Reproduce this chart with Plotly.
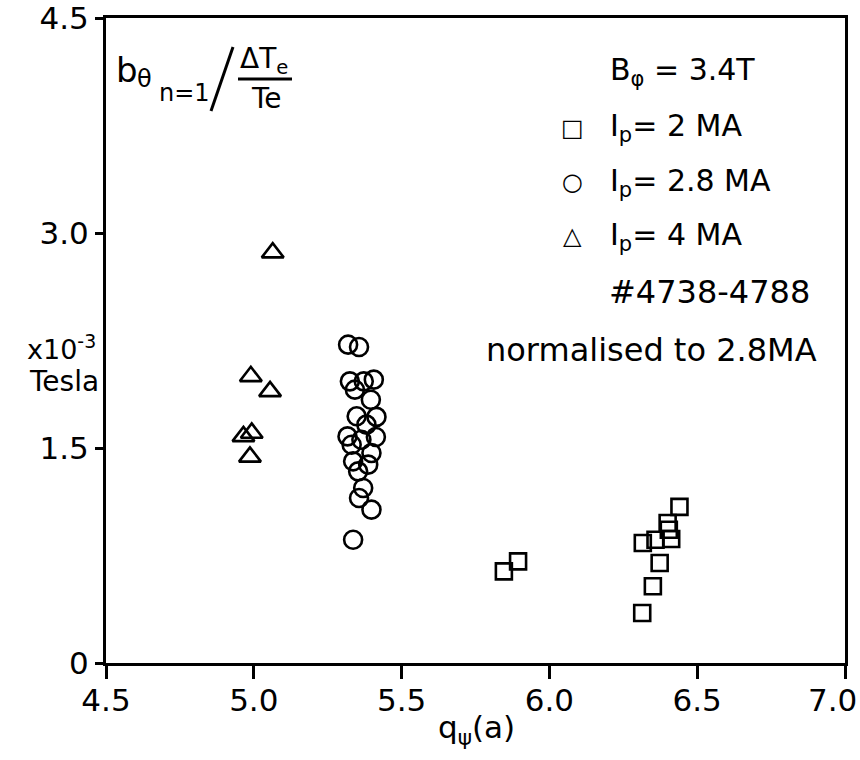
import plotly.graph_objects as go

# ---- data ----
sq_q = [5.846, 5.894, 6.440, 6.400, 6.404, 6.412, 6.316, 6.359, 6.373, 6.350, 6.314]
sq_b = [0.639, 0.709, 1.089, 0.977, 0.930, 0.865, 0.837, 0.860, 0.698, 0.535, 0.349]

ci_q = [5.319, 5.356, 5.325, 5.372, 5.406, 5.342, 5.396, 5.348, 5.415, 5.381, 5.317,
        5.364, 5.413, 5.331, 5.398, 5.336, 5.387, 5.353, 5.370, 5.356, 5.398, 5.336]
ci_b = [2.221, 2.205, 1.965, 1.965, 1.977, 1.907, 1.837, 1.721, 1.717, 1.663, 1.581,
        1.558, 1.577, 1.523, 1.465, 1.407, 1.384, 1.337, 1.221, 1.151, 1.070, 0.860]

tr_q = [5.064, 4.990, 5.055, 4.965, 4.993, 4.987]
tr_b = [2.863, 2.000, 1.895, 1.581, 1.605, 1.438]

x_ticks = [4.5, 5.0, 5.5, 6.0, 6.5, 7.0]
x_tick_text = ["4.5", "5.0", "5.5", "6.0", "6.5", "7.0"]
y_ticks = [0, 1.5, 3.0, 4.5]
y_tick_text = ["0", "1.5", "3.0", "4.5"]

# ---- layout geometry ----
W, H = 860, 760
L, R, T, B = 106, 15, 18, 97
PW, PH = W - L - R, H - T - B


def px(x):
    return (x - L) / PW


def py(y):
    return (H - B - y) / PH


FONT = "DejaVu Sans"
ink = "black"

fig = go.Figure()
mk = dict(color=ink, line=dict(color=ink, width=2.6))
fig.add_trace(go.Scatter(x=sq_q, y=sq_b, mode="markers",
                         marker=dict(symbol="square-open", size=16, **mk)))
fig.add_trace(go.Scatter(x=ci_q, y=ci_b, mode="markers",
                         marker=dict(symbol="circle-open", size=18, **mk)))
fig.add_trace(go.Scatter(x=tr_q, y=tr_b, mode="markers",
                         marker=dict(symbol="triangle-up-open", size=19, **mk)))

ann = []


def text(s, x, y, size=31, xa="left", ya="middle"):
    ann.append(dict(text=s, x=px(x), y=py(y), xref="paper", yref="paper",
                    xanchor=xa, yanchor=ya, showarrow=False,
                    font=dict(family=FONT, size=size, color=ink)))


# top-left quantity label
text("b", 114, 70, 34)
text("θ", 135, 79, 24)
text("n=1", 157, 93, 24)
text("ΔT<sub>e</sub>", 238, 60, 28)
text("Te", 266, 99, 28, xa="center")

# legend block
text("B<sub>φ</sub> = 3.4T", 608, 72, 30)
text("□", 572, 128, 24, xa="center")
text("I<sub>p</sub>= 2 MA", 608, 128, 30)
text("○", 572, 182, 24, xa="center")
text("I<sub>p</sub>= 2.8 MA", 608, 182, 30)
text("△", 572, 236, 24, xa="center")
text("I<sub>p</sub>= 4 MA", 608, 236, 30)
text("#4738-4788", 607, 292, 32)
text("normalised to 2.8MA", 484, 350, 32)

# y units
text("x10<sup>-3</sup>", 98, 347, 27, xa="right")
text("Tesla", 101, 382, 28, xa="right")

# x title
text("q<sub>ψ</sub>(a)", 476, 729, 31, xa="center")

# last x tick label sits flush with the right edge (as in the reference)
x_tick_shown = x_tick_text[:-1] + [""]
text(x_tick_text[-1], 859, 700, 31, xa="right")

shapes = [
    dict(type="line", xref="paper", yref="paper", x0=px(211), y0=py(111),
         x1=px(233), y1=py(47), line=dict(color=ink, width=3)),
    dict(type="line", xref="paper", yref="paper", x0=px(238), y0=py(79),
         x1=px(292), y1=py(79), line=dict(color=ink, width=3)),
]

axis_common = dict(showgrid=False, zeroline=False, showline=True, linecolor=ink,
                   linewidth=3, mirror=True, ticks="outside", tickcolor=ink,
                   tickwidth=3, automargin=False, ticklabeloverflow="allow",
                   tickfont=dict(family=FONT, size=31, color=ink))

fig.update_layout(
    width=W, height=H, autosize=False,
    margin=dict(l=L, r=R, t=T, b=B, pad=0, autoexpand=False),
    paper_bgcolor="white", plot_bgcolor="white",
    showlegend=False,
    xaxis=dict(range=[4.5, 7.0], tickvals=x_ticks, ticktext=x_tick_shown,
               ticklen=13, ticklabelstandoff=-5, **axis_common),
    yaxis=dict(range=[0, 4.5], tickvals=y_ticks, ticktext=y_tick_text,
               ticklen=8, **axis_common),
    annotations=ann, shapes=shapes,
)

fig.write_html("out.html")
